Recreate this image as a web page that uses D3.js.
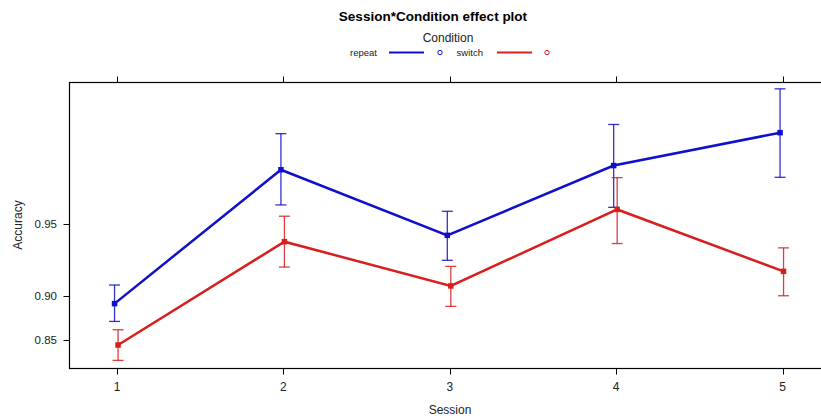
<!DOCTYPE html>
<html>
<head>
<meta charset="utf-8">
<script src="https://cdn.jsdelivr.net/npm/d3@7"></script>
<style>
  body { margin: 0; background: #fff; }
  text { font-family: Arial, "Liberation Sans", sans-serif; fill: #222; }
</style>
</head>
<body>
<div id="chart"></div>
<script>
// data
var sessions = [1, 2, 3, 4, 5];
var conditions = ["repeat", "switch"];
var repeatFit = [0.8926, 0.9710, 0.9442, 0.9722, 0.9801];
var repeatLower = [0.8735, 0.9587, 0.9288, 0.9577, 0.9687];
var repeatUpper = [0.9098, 0.9799, 0.9560, 0.9817, 0.9873];
var switchFit = [0.8438, 0.9406, 0.9090, 0.9568, 0.9208];
var switchLower = [0.8215, 0.9240, 0.8898, 0.9395, 0.9002];
var switchUpper = [0.8636, 0.9538, 0.9245, 0.9686, 0.9369];
var yTicks = [0.85, 0.90, 0.95];

var colors = { repeat: "#1010cc", "switch": "#d81e1e" };
var offsets = { repeat: -2.5, "switch": 1 };

var series = [
    { name: "repeat", fit: repeatFit, lower: repeatLower, upper: repeatUpper },
    { name: "switch", fit: switchFit, lower: switchLower, upper: switchUpper }
];

var width = 821, height = 418;

var svg = d3.select("#chart").append("svg")
    .attr("width", width)
    .attr("height", height);

var logit = function(p) { return Math.log(p / (1 - p)); };

// lattice style: symmetric padding around the sessions
var x = d3.scaleLinear().domain([0.713, 5.287]).range([69.3, 830.3]);
var y = d3.scaleLinear().domain([logit(0.8096), logit(0.9881)]).range([368, 82.5]);
var yp = function(p) { return y(logit(p)); };

var frame = { left: 69.5, top: 82.5, bottom: 368.5, right: 831 };

// title + legend
svg.append("text")
    .attr("x", 433).attr("y", 21)
    .attr("text-anchor", "middle")
    .style("font-size", "13.5px").style("font-weight", "bold")
    .style("fill", "#000")
    .text("Session*Condition effect plot");

svg.append("text")
    .attr("x", 448).attr("y", 42)
    .attr("text-anchor", "middle")
    .style("font-size", "12px")
    .text("Condition");

var legendPos = [{ tx: 377, x0: 389, x1: 424, cx: 440 }, { tx: 483, x0: 497, x1: 532, cx: 547 }];
conditions.forEach(function(c, i) {
    var p = legendPos[i];
    svg.append("text")
        .attr("x", p.tx).attr("y", 56)
        .attr("text-anchor", "end")
        .style("font-size", "9.5px")
        .text(c);
    svg.append("line")
        .attr("x1", p.x0).attr("x2", p.x1)
        .attr("y1", 52.5).attr("y2", 52.5)
        .attr("stroke", colors[c]).attr("stroke-width", 2.2);
    svg.append("circle")
        .attr("cx", p.cx).attr("cy", 52.5).attr("r", 2.2)
        .attr("fill", "none")
        .attr("stroke", colors[c]).attr("stroke-width", 1);
});

// frame
svg.append("rect")
    .attr("x", frame.left).attr("y", frame.top)
    .attr("width", frame.right - frame.left).attr("height", frame.bottom - frame.top)
    .attr("fill", "none").attr("stroke", "#000").attr("stroke-width", 1.2);

// x ticks (bottom and top)
sessions.forEach(function(s) {
    var xx = Math.round(x(s)) + 0.5;
    svg.append("line").attr("x1", xx).attr("x2", xx)
        .attr("y1", frame.bottom).attr("y2", frame.bottom + 6)
        .attr("stroke", "#000");
    svg.append("line").attr("x1", xx).attr("x2", xx)
        .attr("y1", frame.top).attr("y2", frame.top - 6)
        .attr("stroke", "#000");
    svg.append("text")
        .attr("x", x(s)).attr("y", 391)
        .attr("text-anchor", "middle")
        .style("font-size", "12px")
        .text(s);
});

// y ticks (logit scale)
yTicks.forEach(function(t) {
    var yy = Math.round(yp(t)) + 0.5;
    svg.append("line").attr("x1", frame.left).attr("x2", frame.left - 6)
        .attr("y1", yy).attr("y2", yy)
        .attr("stroke", "#000");
    svg.append("text")
        .attr("x", 57).attr("y", yp(t) + 4)
        .attr("text-anchor", "end")
        .style("font-size", "11.5px")
        .text(d3.format(".2f")(t));
});

svg.append("text")
    .attr("x", 450).attr("y", 414)
    .attr("text-anchor", "middle")
    .style("font-size", "12px")
    .text("Session");

svg.append("text")
    .attr("transform", "translate(22,225) rotate(-90)")
    .attr("text-anchor", "middle")
    .style("font-size", "12px")
    .text("Accuracy");

// series
series.forEach(function(s) {
    var col = colors[s.name];
    var off = offsets[s.name];
    var g = svg.append("g");

    var line = d3.line()
        .x(function(d, i) { return x(sessions[i]) + off; })
        .y(function(d) { return yp(d); });

    g.append("path")
        .datum(s.fit)
        .attr("d", line)
        .attr("fill", "none")
        .attr("stroke", col)
        .attr("stroke-width", 2.5);

    // error bars
    sessions.forEach(function(sess, i) {
        var xx = x(sess) + off;
        g.append("line")
            .attr("x1", xx).attr("x2", xx)
            .attr("y1", yp(s.lower[i])).attr("y2", yp(s.upper[i]))
            .attr("stroke", col).attr("stroke-width", 1.3).attr("opacity", 0.85);
        [s.lower[i], s.upper[i]].forEach(function(v) {
            g.append("line")
                .attr("x1", xx - 5.5).attr("x2", xx + 5.5)
                .attr("y1", yp(v)).attr("y2", yp(v))
                .attr("stroke", col).attr("stroke-width", 1.3).attr("opacity", 0.85);
        });
    });

    g.selectAll("rect.pt")
        .data(s.fit)
        .enter()
        .append("rect")
        .attr("class", "pt")
        .attr("x", function(d, i) { return x(sessions[i]) + off - 2.75; })
        .attr("y", function(d) { return yp(d) - 2.75; })
        .attr("width", 5.5).attr("height", 5.5)
        .attr("fill", col);
});
</script>
</body>
</html>
